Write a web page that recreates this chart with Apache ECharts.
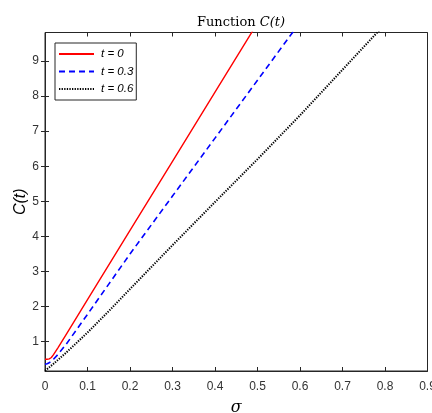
<!DOCTYPE html>
<html>
<head>
<meta charset="UTF-8">
<title>Function C(t)</title>
<script src="https://cdn.jsdelivr.net/npm/echarts@6/dist/echarts.min.js"></script>
<style>
  html, body { margin: 0; padding: 0; background: #fff; }
  #chart { width: 432px; height: 413px; }
</style>
</head>
<body>
<div id="chart"></div>
<script type="text/javascript">
// values: [sigma, C]
var sigmaTicks = [0, 0.1, 0.2, 0.3, 0.4, 0.5, 0.6, 0.7, 0.8, 0.9];
var cTicks = [1, 2, 3, 4, 5, 6, 7, 8, 9];
var seriesNames = ['t = 0', 't = 0.3', 't = 0.6'];
var curveT0 = [[0, 0.5], [0.005, 0.5], [0.01, 0.51], [0.015, 0.55], [0.02, 0.63], [0.03, 0.82],
    [0.05, 1.21], [0.1, 2.2], [0.2, 4.17], [0.3, 6.14], [0.4, 8.11], [0.5, 10.08]];
var curveT03 = [[0, 0.36], [0.005, 0.37], [0.01, 0.4], [0.02, 0.5], [0.03, 0.63], [0.05, 0.93],
    [0.1, 1.78], [0.15, 2.64], [0.2, 3.5], [0.3, 5.15], [0.4, 6.8], [0.5, 8.45], [0.6, 10.1]];
var curveT06 = [[0, 0.17], [0.02, 0.37], [0.05, 0.69], [0.1, 1.26], [0.15, 1.87], [0.2, 2.5],
    [0.3, 3.75], [0.4, 4.98], [0.5, 6.2], [0.6, 7.45], [0.7, 8.75], [0.8, 10.05]];

var axisCol = '#262626';
var chart = echarts.init(document.getElementById('chart'));

var tickInside = { show: true, inside: true, length: 4, lineStyle: { color: axisCol, width: 1 } };

var option = {
    backgroundColor: '#fff',
    animation: false,
    title: {
        text: '{n|Function }{i|C(t)}',
        left: 236, top: 11, textAlign: 'center',
        textStyle: {
            fontWeight: 'normal',
            rich: {
                n: { fontFamily: 'DejaVu Serif', fontWeight: 'normal', fontSize: 13, color: '#000' },
                i: { fontFamily: 'DejaVu Serif', fontWeight: 'normal', fontStyle: 'italic', fontSize: 13, color: '#000' }
            }
        }
    },
    grid: {
        left: 45, right: 4.5, top: 32.5, bottom: 42,
        outerBoundsMode: 'none', containLabel: false,
        show: true, borderColor: axisCol, borderWidth: 1, backgroundColor: 'transparent'
    },
    legend: {
        orient: 'vertical', left: 55, top: 43,
        data: seriesNames,
        itemWidth: 35, itemHeight: 10, itemGap: 5.5,
        padding: [5, 3, 5, 3],
        backgroundColor: '#fff', borderColor: axisCol, borderWidth: 1,
        selectedMode: false,
        itemStyle: { opacity: 0 },
        textStyle: { fontFamily: 'Liberation Sans', fontStyle: 'italic', fontSize: 11.5, color: '#000', padding: [0, 0, 0, 2] }
    },
    xAxis: [{
        type: 'value', min: 0, max: 0.9, interval: 0.1,
        name: 'σ', nameLocation: 'middle', nameGap: 29, nameMoveOverlap: false,
        nameTextStyle: { fontFamily: 'DejaVu Serif', fontStyle: 'italic', fontSize: 16, color: '#000' },
        axisLine: { show: true, lineStyle: { color: axisCol } },
        axisTick: tickInside,
        axisLabel: { color: '#333', fontFamily: 'Liberation Sans', fontSize: 12, margin: 10,
            customValues: sigmaTicks, formatter: function (v) { return String(+v.toFixed(1)); } },
        splitLine: { show: false }
    }, {
        type: 'value', min: 0, max: 0.9, interval: 0.1, position: 'top',
        axisLine: { show: false }, axisTick: tickInside,
        axisLabel: { show: false }, splitLine: { show: false }
    }],
    yAxis: [{
        type: 'value', min: 0.165, max: 9.81,
        name: 'C(t)', nameLocation: 'middle', nameGap: 16, nameMoveOverlap: false,
        nameTextStyle: { fontFamily: 'Liberation Sans', fontStyle: 'italic', fontSize: 16, color: '#000' },
        axisLine: { show: true, lineStyle: { color: axisCol } },
        axisTick: { show: true, inside: true, length: 4, lineStyle: { color: axisCol }, customValues: cTicks },
        axisLabel: { color: '#333', fontFamily: 'Liberation Sans', fontSize: 12, margin: 6, customValues: cTicks },
        splitLine: { show: false }
    }, {
        type: 'value', min: 0.165, max: 9.81, position: 'right',
        axisLine: { show: false },
        axisTick: { show: true, inside: true, length: 4, lineStyle: { color: axisCol }, customValues: cTicks },
        axisLabel: { show: false, customValues: cTicks }, splitLine: { show: false }
    }],
    series: [{
        name: seriesNames[0], type: 'line', data: curveT0, symbol: 'none',
        color: '#ff0000', lineStyle: { color: '#ff0000', width: 1.4, type: 'solid' }
    }, {
        name: seriesNames[1], type: 'line', data: curveT03, symbol: 'none',
        color: '#0000ff', lineStyle: { color: '#0000ff', width: 1.6, type: [6, 4] }
    }, {
        name: seriesNames[2], type: 'line', data: curveT06, symbol: 'none',
        color: '#000000', lineStyle: { color: '#000000', width: 2, type: [1.3, 1.3] }
    }]
};
chart.setOption(option);
</script>
</body>
</html>
